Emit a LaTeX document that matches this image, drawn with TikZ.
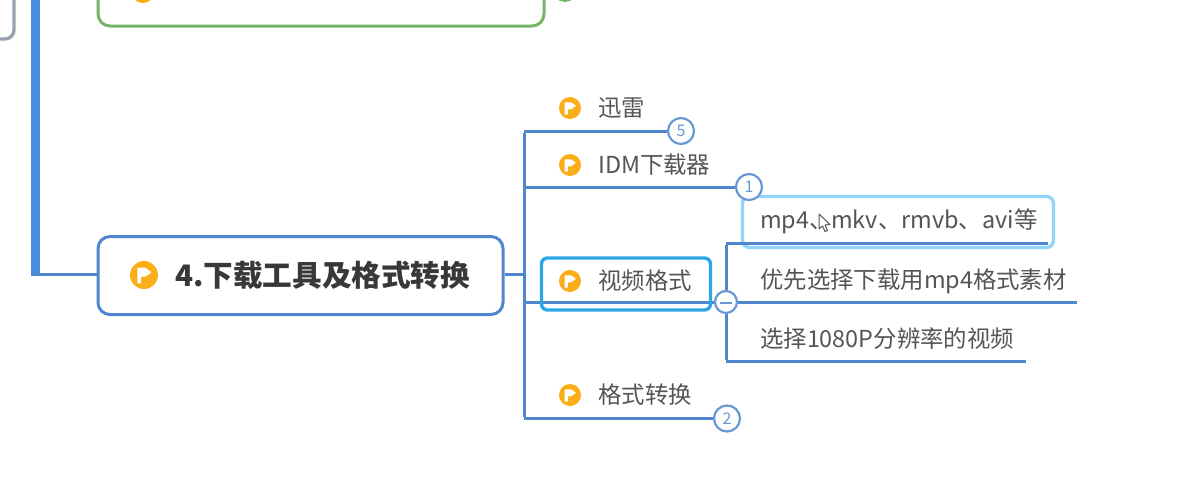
\documentclass[tikz,border=0pt]{standalone}
\usepackage{fontspec}
\setmainfont{Noto Sans CJK SC}
\definecolor{linkblue}{HTML}{4F86CE}
\definecolor{barblue}{HTML}{4A8CE0}
\definecolor{selblue}{HTML}{2FA6EA}
\definecolor{selpale}{HTML}{93D5F8}
\definecolor{flagorange}{HTML}{FBAE17}
\definecolor{txt}{HTML}{555555}
\definecolor{txtdark}{HTML}{383838}
\definecolor{grn}{HTML}{74B566}
\definecolor{gry}{HTML}{98A2AE}
\newcommand{\flagicon}[3]{%
  \fill[flagorange] (#1,#2) circle[radius=#3];
  \fill[white,rounded corners=0.6pt] (#1-0.48*#3,#2-0.52*#3) -- (#1+0.1*#3,#2-0.52*#3) -- (#1+0.55*#3,#2-0.2*#3) -- (#1+0.1*#3,#2+0.12*#3) -- (#1-0.2*#3,#2+0.12*#3) -- (#1-0.2*#3,#2+0.6*#3) -- (#1-0.48*#3,#2+0.6*#3) -- cycle;
}
\tikzset{
  link/.style={draw=linkblue,line width=3pt},
  topic/.style={font=\fontsize{23.4}{27}\selectfont,text=txt,inner sep=0pt,anchor=west},
  badge/.style={circle,draw=linkblue!85,fill=white,line width=2.2pt,minimum size=26pt,inner sep=0pt,font=\fontsize{16}{18}\selectfont,text=linkblue!85},
}
\begin{document}
\begin{tikzpicture}[x=1pt,y=-1pt]
\useasboundingbox (0,0) rectangle (1187,480);
\clip (0,0) rectangle (1187,480);
\fill[white] (0,0) rectangle (1187,480);

% clipped items at the top
\draw[gry,line width=3.4pt,rounded corners=9pt] (14,-40) -- (14,39) -- (-20,39);
\draw[grn,line width=3pt,rounded corners=12pt] (98,-50) rectangle (544,26);
\fill[flagorange] (143,-9) circle[radius=12];
\draw[grn,line width=1.8pt,fill=white] (565,-11) circle[radius=12];

% main box and trunk
\node[draw=linkblue,line width=3pt,rounded corners=12pt,fill=white,minimum width=405pt,minimum height=78pt,inner sep=0pt] (main) at (300.5,275.5) {};
\coordinate (bartop) at (35,-5);
\coordinate (barend) at (35,274);
\draw[draw=barblue,line width=9pt] (bartop) -- (barend);
\draw[link] (30.5,274) -- (main.west |- barend);
\flagicon{144}{275}{14}
\node[inner sep=0pt,anchor=west,text=txtdark,font=\fontsize{29.6}{33}\selectfont\bfseries] (maintext) at (175,275) {4.下载工具及格式转换};

% child trunk
\coordinate (t0) at (524,131);
\coordinate (t1) at (524,187);
\coordinate (t2) at (524,302);
\coordinate (t3) at (524,418.5);
\coordinate (tm) at (524,274);
\draw[link] (main.east |- tm) -- (tm);
\draw[link] ([yshift=-1.5pt]t0) -- ([yshift=1.5pt]t3);
\coordinate (b5c) at (681,131);
\coordinate (b1c) at (749,187);
\coordinate (bmc) at (726,302);
\coordinate (b2c) at (727,418.5);
\draw[link] (t0) -- (b5c);
\draw[link] (t1) -- (b1c);
\draw[link] (t2) -- (bmc);
\draw[link] (t3) -- (b2c);

% sub trunk, with nodes
\node[draw=selpale,line width=3.4pt,rounded corners=7pt,fill=white,minimum width=311pt,minimum height=51pt,inner sep=0pt] (mpbox) at (898,222) {};
\coordinate (s0) at (726,243);
\coordinate (s1) at (726,302);
\coordinate (s2) at (726,361);
\coordinate (e0) at (1048,243);
\coordinate (e1) at (1077,302);
\coordinate (e2) at (1026,361);
\draw[link] ([yshift=1.5pt]s2) -- ([yshift=-1.5pt]s0);
\draw[link] (s0) -- (e0);
\draw[link] (s1) -- (e1);
\draw[link] (s2) -- (e2);

\node[badge] (b5) at (b5c) {5};
\node[badge] (b1) at (b1c) {1};
\node[badge] (b2) at (b2c) {2};

\node[draw=selblue,line width=3.4pt,rounded corners=6pt,minimum width=169pt,minimum height=52pt,inner sep=0pt] (vbox) at (626,284) {};
\node[badge,minimum size=22pt] (bm) at (bmc) {};
\draw[draw=linkblue!85,line width=2pt] (720,302.5) -- (732,302.5);

% labels
\flagicon{570}{108}{11}
\flagicon{570}{165}{11}
\flagicon{570}{281}{11}
\flagicon{570}{395}{11}
\node[topic] (n1) at (598,108) {迅雷};
\node[topic] (n2) at (598,165) {IDM下载器};
\node[topic] (n3) at (598,281) {视频格式};
\node[topic] (n4) at (598,395) {格式转换};
\node[topic] (c1) at (760,221) {mp4、\hspace{-1.5pt}mkv、rmvb、avi等};
\node[topic] (c2) at (760,281) {优先选择下载用mp4格式素材};
\node[topic] (c3) at (760,339) {选择1080P分辨率的视频};

% mouse pointer
\draw[draw=txt,fill=white,line width=1pt,line join=round] (819,214) -- (819,229) -- (822.5,226) -- (825,231.5) -- (827.5,230.5) -- (825,225) -- (830,224.5) -- cycle;
\end{tikzpicture}
\end{document}
